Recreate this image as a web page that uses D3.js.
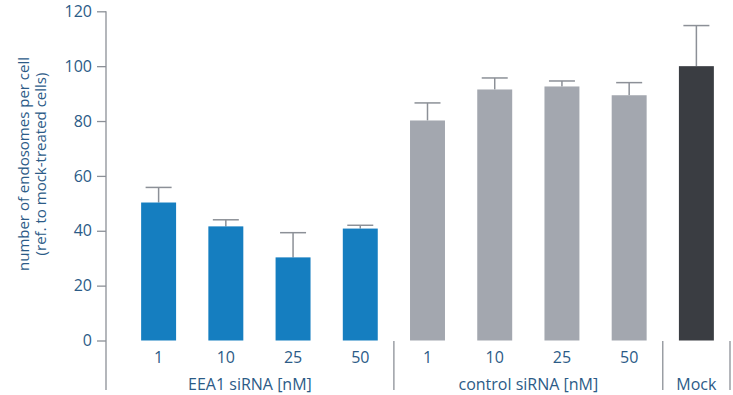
<!DOCTYPE html>
<html><head><meta charset="utf-8">
<script src="https://cdn.jsdelivr.net/npm/d3@7"></script>
<style>body{margin:0;background:#fff}</style>
</head><body>
<svg id="c" width="733" height="395"></svg>
<script>
const categories = ["1","10","25","50","1","10","25","50",""];
const groups = ["EEA1","EEA1","EEA1","EEA1","control","control","control","control","Mock"];
const values = [50.3, 41.6, 30.3, 40.8, 80.2, 91.5, 92.6, 89.4, 100];
const errors = [5.5, 2.4, 9.0, 1.2, 6.4, 4.2, 2.0, 4.6, 14.8];
const groupLabels = ["EEA1 siRNA [nM]","control siRNA [nM]","Mock"];
const groupKeys = ["EEA1","control","Mock"];
const yTicks = [0,20,40,60,80,100,120];
const colors = {EEA1:"#157ec0", control:"#a3a7af", Mock:"#3a3d42"};

const svg = d3.select("#c");
const font = "'Open Sans','Noto Sans',sans-serif";
const textColor = "#2c5b87";
const axisColor = "#8c9097";
const y = d3.scaleLinear().domain([0,120]).range([340.5,11.3]);
const idx = d3.range(categories.length);
const x = d3.scaleBand().domain(idx).range([125,730]).paddingInner(0.48).paddingOuter(0.24);

// y axis
const ya = svg.append("g").attr("transform","translate(106,0)")
  .call(d3.axisLeft(y).tickValues(yTicks).tickSize(9).tickPadding(5));
ya.select(".domain").remove();
ya.selectAll(".tick line").attr("stroke",axisColor).attr("stroke-width",1.3);
ya.selectAll(".tick text").attr("fill",textColor).attr("font-family",font).attr("font-size",16);
svg.append("line").attr("x1",106).attr("x2",106).attr("y1",y(120)).attr("y2",390)
  .attr("stroke",axisColor).attr("stroke-width",1.3);

// y label
const yl = svg.append("text").attr("transform","translate(0,164) rotate(-90)")
  .attr("text-anchor","middle").attr("fill",textColor).attr("font-family",font).attr("font-size",15);
yl.append("tspan").attr("x",0).attr("y",29).text("number of endosomes per cell");
yl.append("tspan").attr("x",0).attr("y",46).text("(ref. to mock-treated cells)");

// error bars
const eb = svg.append("g");
idx.forEach(i=>{
  const cx = x(i)+x.bandwidth()/2;
  eb.append("line").attr("x1",cx).attr("x2",cx).attr("y1",y(values[i])).attr("y2",y(values[i]+errors[i]))
    .attr("stroke",axisColor).attr("stroke-width",1.5);
  eb.append("line").attr("x1",cx-13).attr("x2",cx+13).attr("y1",y(values[i]+errors[i])).attr("y2",y(values[i]+errors[i]))
    .attr("stroke",axisColor).attr("stroke-width",1.5);
});

// bars
svg.append("g").selectAll("rect").data(idx).join("rect")
  .attr("x",i=>x(i)).attr("width",x.bandwidth())
  .attr("y",i=>y(values[i])).attr("height",i=>y(0)-y(values[i]))
  .attr("fill",i=>colors[groups[i]]);

// category labels
svg.append("g").selectAll("text").data(idx).join("text")
  .attr("x",i=>x(i)+x.bandwidth()/2).attr("y",362.5)
  .attr("text-anchor","middle").attr("fill",textColor).attr("font-family",font).attr("font-size",16)
  .text(i=>categories[i]);

// group separators and labels
const step = x.step();
groupKeys.forEach((g,k)=>{
  const members = idx.filter(i=>groups[i]===g);
  let left = x(members[0]) - (step - x.bandwidth())/2;
  const right = x(members[members.length-1]) + x.bandwidth() + (step - x.bandwidth())/2;
  if(k>0) svg.append("line").attr("x1",left).attr("x2",left).attr("y1",341).attr("y2",390)
    .attr("stroke",axisColor).attr("stroke-width",1.3);
  if(k===groupKeys.length-1) svg.append("line").attr("x1",right).attr("x2",right).attr("y1",341).attr("y2",390)
    .attr("stroke",axisColor).attr("stroke-width",1.3);
  if(k===0) left = 106;
  svg.append("text").attr("x",(left+right)/2).attr("y",389.5)
    .attr("text-anchor","middle").attr("fill",textColor).attr("font-family",font).attr("font-size",16)
    .text(groupLabels[k]);
});
</script>
</body></html>
